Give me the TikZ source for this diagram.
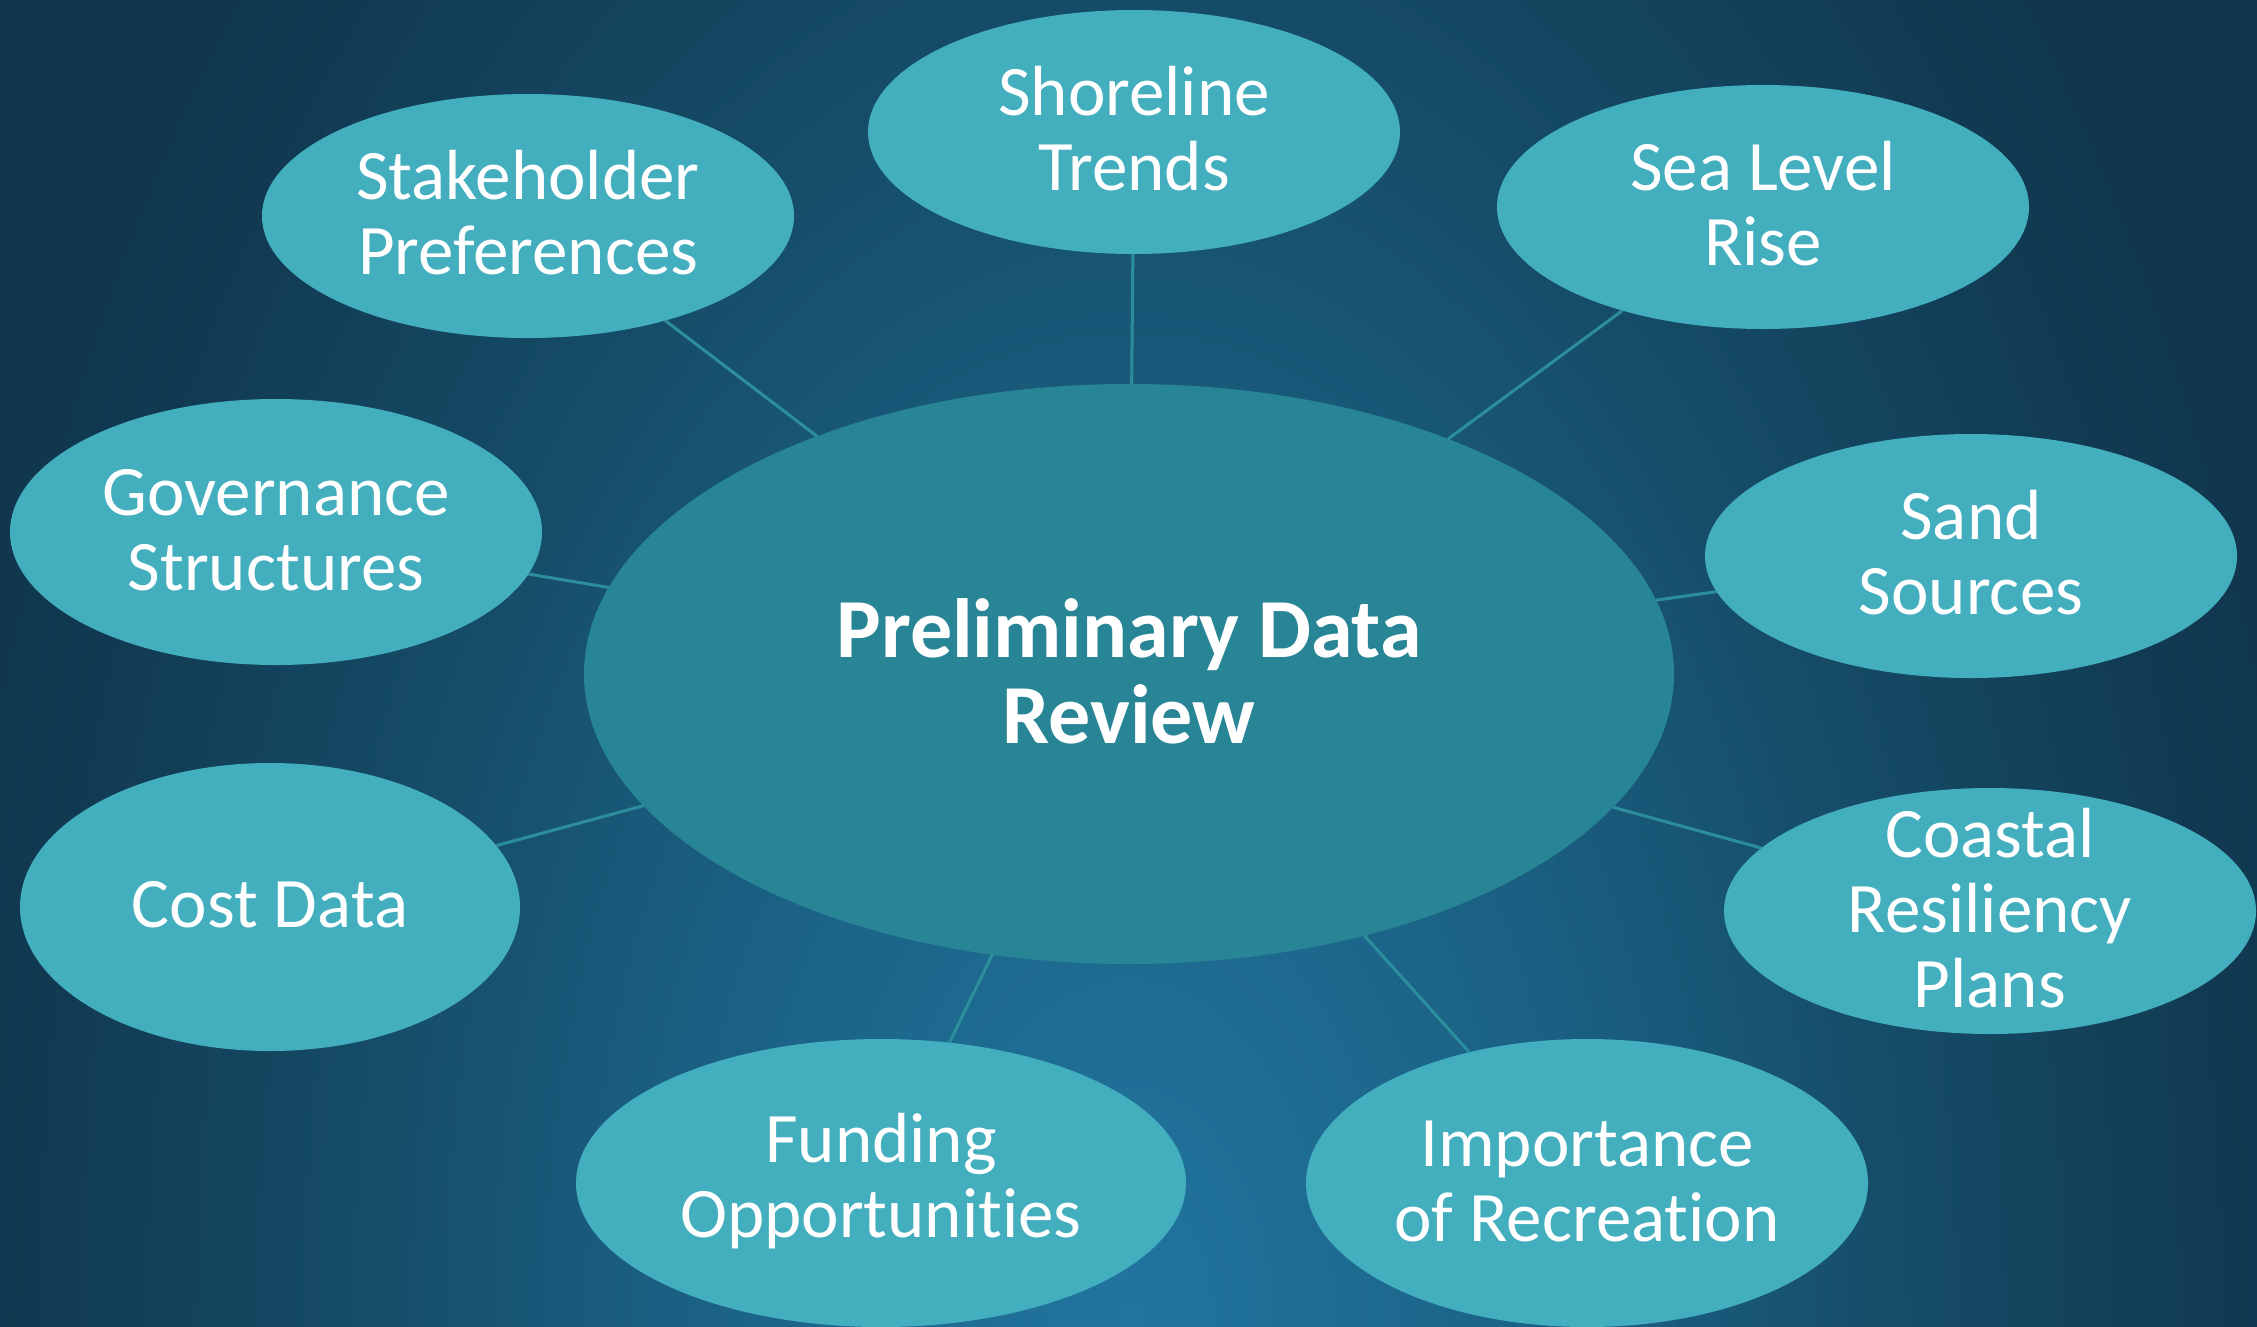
\documentclass[tikz,border=0pt]{standalone}
\usepackage{fontspec}
\setmainfont{Carlito}[Ligatures=NoCommon]
\usetikzlibrary{shapes.geometric}
\definecolor{bgA}{HTML}{2175A0}
\definecolor{bgB}{HTML}{1A5F81}
\definecolor{bgC}{HTML}{154B66}
\definecolor{bgD}{HTML}{113A52}
\definecolor{bgE}{HTML}{0F354B}
\definecolor{nodeC}{HTML}{42AEBE}
\definecolor{hubC}{HTML}{288596}
\definecolor{lineC}{HTML}{2C8E9D}
\pgfdeclareradialshading{bgshade}{\pgfpoint{0bp}{0bp}}{color(0bp)=(bgA); color(6.1bp)=(bgB); color(10.1bp)=(bgC); color(14.1bp)=(bgD); color(16.3bp)=(bgE); color(50bp)=(bgE)}
\tikzset{
  bubble/.style={ellipse, fill=nodeC, inner sep=0pt, outer sep=0pt, minimum width=532pt, minimum height=244pt},
  hub/.style={ellipse, fill=hubC, inner sep=0pt, outer sep=0pt, minimum width=1090pt, minimum height=580pt},
  lbl/.style={text=white, font=\fontsize{71}{75}\selectfont, align=center, inner sep=0pt},
  hublbl/.style={text=white, font=\bfseries\fontsize{84}{86}\selectfont, align=center, inner sep=0pt},
  conn/.style={draw=lineC, line width=3pt},
}
\begin{document}
\begin{tikzpicture}[x=1pt,y=-1pt]
\useasboundingbox (0,0) rectangle (2257,1326);
\begin{scope}
\clip (0,0) rectangle (2257,1326);
\fill[bgE] (0,0) rectangle (2257,1326);
\shade[shading=bgshade] (1130,1326) ellipse [x radius=1950pt, y radius=3300pt];
\end{scope}
% hub
\node[hub] (hub) at (1129,674) {};
\node[hublbl] (hubt) at (1129,671) {Preliminary Data\\Review};
% satellites
\node[bubble] (shore) at (1134,132) {};
\node[lbl] (shoret) at ([yshift=3pt]shore.center) {Shoreline\\Trends};
\node[bubble] (stake) at (528,216) {};
\node[lbl] (staket) at ([yshift=3pt]stake.center) {Stakeholder\\Preferences};
\node[bubble] (sea) at (1763,207) {};
\node[lbl] (seat) at ([yshift=3pt]sea.center) {Sea Level\\Rise};
\node[bubble, minimum height=266pt] (gov) at (276,532) {};
\node[lbl] (govt) at ([yshift=2pt]gov.center) {Governance\\Structures};
\node[bubble] (sand) at (1971,556) {};
\node[lbl] (sandt) at ([yshift=3pt]sand.center) {Sand\\Sources};
\node[bubble, minimum width=500pt, minimum height=288pt] (cost) at (270,907) {};
\node[lbl] (costt) at ([yshift=2pt]cost.center) {Cost Data};
\node[bubble, minimum height=246pt] (coast) at (1990,911) {};
\node[lbl] (coastt) at ([yshift=3pt]coast.center) {Coastal\\Resiliency\\Plans};
\node[bubble, minimum width=610pt, minimum height=288pt] (fund) at (881,1183) {};
\node[lbl] (fundt) at ([yshift=2pt]fund.center) {Funding\\Opportunities};
\node[bubble, minimum width=562pt, minimum height=288pt] (imp) at (1587,1183) {};
\node[lbl] (impt) at ([yshift=2pt]imp.center) {Importance\\of Recreation};
% connectors
\draw[conn] (hub) -- (shore);
\draw[conn] (hub) -- (stake);
\draw[conn] (hub) -- (sea);
\draw[conn] (hub) -- (gov);
\draw[conn] (hub) -- (sand);
\draw[conn] (hub) -- (cost);
\draw[conn] (hub) -- (coast);
\draw[conn] (hub) -- (fund);
\draw[conn] (hub) -- (imp);
\end{tikzpicture}
\end{document}
